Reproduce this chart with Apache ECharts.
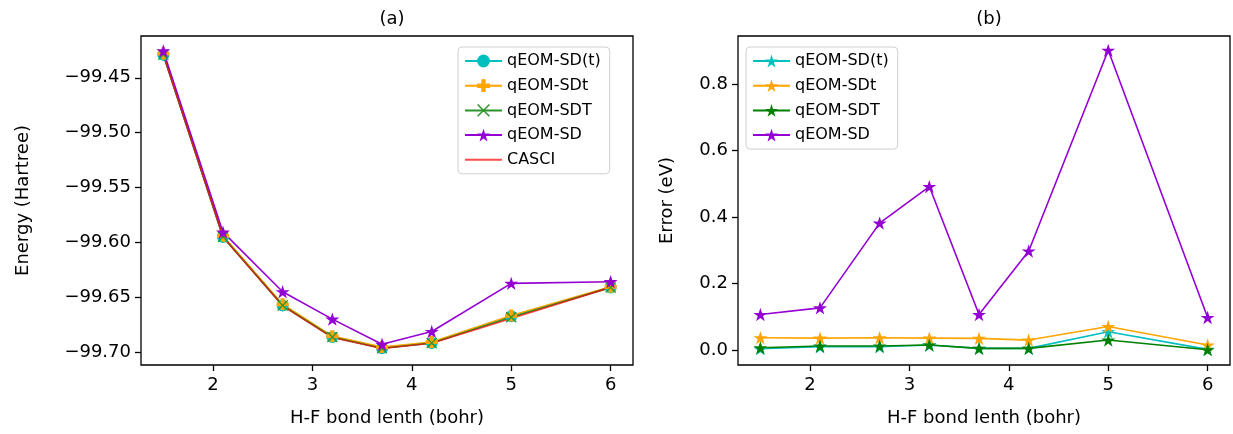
<!DOCTYPE html>
<html>
<head>
<meta charset="utf-8">
<title>H-F qEOM</title>
<script src="https://cdn.jsdelivr.net/npm/echarts@6.0.0/dist/echarts.min.js"></script>
<style>
html, body { margin: 0; padding: 0; background: #fff; }
#wrap { width: 1233px; height: 434px; position: relative; }
#chartA { position: absolute; left: 0; top: 0; width: 685px; height: 434px; }
#chartB { position: absolute; left: 630px; top: 0; width: 603px; height: 434px; }
</style>
</head>
<body>
<div id="wrap">
	<div id="chartA"></div>
	<div id="chartB"></div>
</div>
<script>
// bond length (bohr)
var bondLength = [1.5, 2.1, 2.7, 3.2, 3.7, 4.2, 5.0, 6.0];

// (a) energies, Hartree
var energySDpt = [-99.4291, -99.5949, -99.6574, -99.6861, -99.6964, -99.6916, -99.6672, -99.6409];
var energySDt = [-99.4279, -99.5939, -99.6563, -99.6853, -99.6953, -99.6907, -99.6666, -99.6404];
var energySDT = [-99.4289, -99.5948, -99.6573, -99.6861, -99.6964, -99.6916, -99.6681, -99.6409];
var energySD = [-99.4255, -99.5906, -99.6449, -99.6698, -99.6927, -99.6811, -99.6372, -99.6357];
var energyCASCI = [-99.4292, -99.5952, -99.6577, -99.6866, -99.6966, -99.6918, -99.6692, -99.6409];

// (b) errors, eV
var errorSDpt = [0.004, 0.010, 0.010, 0.015, 0.005, 0.005, 0.055, 0.002];
var errorSDt = [0.037, 0.036, 0.037, 0.036, 0.035, 0.030, 0.071, 0.015];
var errorSDT = [0.007, 0.012, 0.012, 0.015, 0.005, 0.005, 0.030, 0.001];
var errorSD = [0.107, 0.127, 0.382, 0.492, 0.107, 0.298, 0.902, 0.098];

// tick values
var xTicks = [2, 3, 4, 5, 6];
var energyTicks = [-99.70, -99.65, -99.60, -99.55, -99.50, -99.45];
var errorTicks = [0.0, 0.2, 0.4, 0.6, 0.8];

var FONT = 'DejaVu Sans';
var STAR = 'path://M100 0 L122.45 69.1 L195.1 69.1 L136.3 111.8 L158.8 180.9 L100 138.2 L41.2 180.9 L63.7 111.8 L4.9 69.1 L77.55 69.1 Z';
var PLUS = 'path://M33 0 H67 V33 H100 V67 H67 V100 H33 V67 H0 V33 H33 Z';
var CROSS = 'path://M0 8 L8 0 L50 42 L92 0 L100 8 L58 50 L100 92 L92 100 L50 58 L8 100 L0 92 L42 50 Z';

var HfChart = {
	init: function() {
		this.drawEnergy();
		this.drawError();
	},
	pairs: function(ys) {
		return bondLength.map(function(x, i) {
			return [x, ys[i]];
		});
	},
	line: function(name, ys, color, symbol, size, opacity) {
		var s = {
			name: name,
			type: 'line',
			data: this.pairs(ys),
			symbol: symbol,
			symbolSize: size,
			symbolKeepAspect: true,
			showSymbol: symbol !== 'none',
			itemStyle: { color: color, opacity: opacity || 1 },
			lineStyle: { color: color, width: 1.6, opacity: opacity || 1 },
			emphasis: { disabled: true }
		};
		if (symbol === 'none') {
			s.itemStyle.opacity = 0; //legend: only the line
		}
		return s;
	},
	xAxis: function() {
		return {
			type: 'value',
			min: 1.275,
			max: 6.225,
			name: 'H-F bond lenth (bohr)',
			nameLocation: 'middle',
			nameGap: 44,
			nameTextStyle: { fontFamily: FONT, fontSize: 18, color: '#000' },
			axisLine: { show: false, onZero: false },
			axisTick: { show: true, length: 6, customValues: xTicks, lineStyle: { color: '#000', width: 1.3 } },
			axisLabel: { customValues: xTicks, margin: 11, fontFamily: FONT, fontSize: 18, color: '#000' },
			splitLine: { show: false }
		};
	},
	yAxis: function(min, max, ticks, digits, name, gap) {
		return {
			type: 'value',
			min: min,
			max: max,
			name: name,
			nameLocation: 'middle',
			nameGap: gap,
			nameTextStyle: { fontFamily: FONT, fontSize: 18, color: '#000' },
			axisLine: { show: false, onZero: false },
			axisTick: { show: true, length: 6, customValues: ticks, lineStyle: { color: '#000', width: 1.3 } },
			axisLabel: {
				customValues: ticks,
				margin: 10,
				fontFamily: FONT,
				fontSize: 18,
				color: '#000',
				formatter: function(v) {
					return (v < 0 ? '\u2212' : '') + Math.abs(v).toFixed(digits);
				}
			},
			splitLine: { show: false }
		};
	},
	legend: function(left, names) {
		return {
			left: left,
			top: 47,
			orient: 'vertical',
			data: names,
			itemWidth: 37,
			itemHeight: 16,
			itemGap: 8.7,
			padding: [6, 9, 6, 6],
			backgroundColor: 'rgba(255,255,255,0.8)',
			borderColor: '#d0d0d0',
			borderWidth: 1,
			borderRadius: 4,
			selectedMode: false,
			textStyle: { fontFamily: FONT, fontSize: 16, color: '#000' }
		};
	},
	grid: function(left, right) {
		return {
			left: left, right: right, top: 36, bottom: 69,
			outerBoundsMode: 'none',
			show: true, borderColor: '#000', borderWidth: 1.3, backgroundColor: '#fff'
		};
	},
	title: function(text, center) {
		return {
			text: text,
			left: center,
			top: 5,
			textAlign: 'center',
			textStyle: { fontFamily: FONT, fontSize: 18, fontWeight: 'normal', color: '#000' }
		};
	},
	drawEnergy: function() {
		var chartA = echarts.init(document.getElementById('chartA'));
		var option = {
			animation: false,
			title: this.title('(a)', 387),
			grid: this.grid(141, 52),
			legend: this.legend(458, ['qEOM-SD(t)', 'qEOM-SDt', 'qEOM-SDT', 'qEOM-SD', 'CASCI']),
			xAxis: this.xAxis(),
			yAxis: this.yAxis(-99.7116, -99.4119, energyTicks, 2, 'Energy (Hartree)', 109),
			series: [
				this.line('qEOM-SD(t)', energySDpt, '#00BFBF', 'circle', 12),
				this.line('qEOM-SDt', energySDt, '#FFA500', PLUS, 12),
				this.line('qEOM-SDT', energySDT, '#2a932a', CROSS, 11),
				this.line('qEOM-SD', energySD, '#9400D3', STAR, 14),
				this.line('CASCI', energyCASCI, '#FF0000', 'none', 0, 0.7)
			]
		};
		chartA.setOption(option, true);
	},
	drawError: function() {
		var chartB = echarts.init(document.getElementById('chartB'));
		var option = {
			animation: false,
			title: this.title('(b)', 354),
			grid: this.grid(108, 3),
			legend: this.legend(116, ['qEOM-SD(t)', 'qEOM-SDt', 'qEOM-SDT', 'qEOM-SD']),
			xAxis: this.xAxis(),
			yAxis: this.yAxis(-0.045, 0.945, errorTicks, 1, 'Error (eV)', 62),
			series: [
				this.line('qEOM-SD(t)', errorSDpt, '#00BFBF', STAR, 14),
				this.line('qEOM-SDt', errorSDt, '#FFA500', STAR, 14),
				this.line('qEOM-SDT', errorSDT, '#008000', STAR, 14),
				this.line('qEOM-SD', errorSD, '#9400D3', STAR, 14)
			]
		};
		chartB.setOption(option, true);
	}
};

HfChart.init();
</script>
</body>
</html>
